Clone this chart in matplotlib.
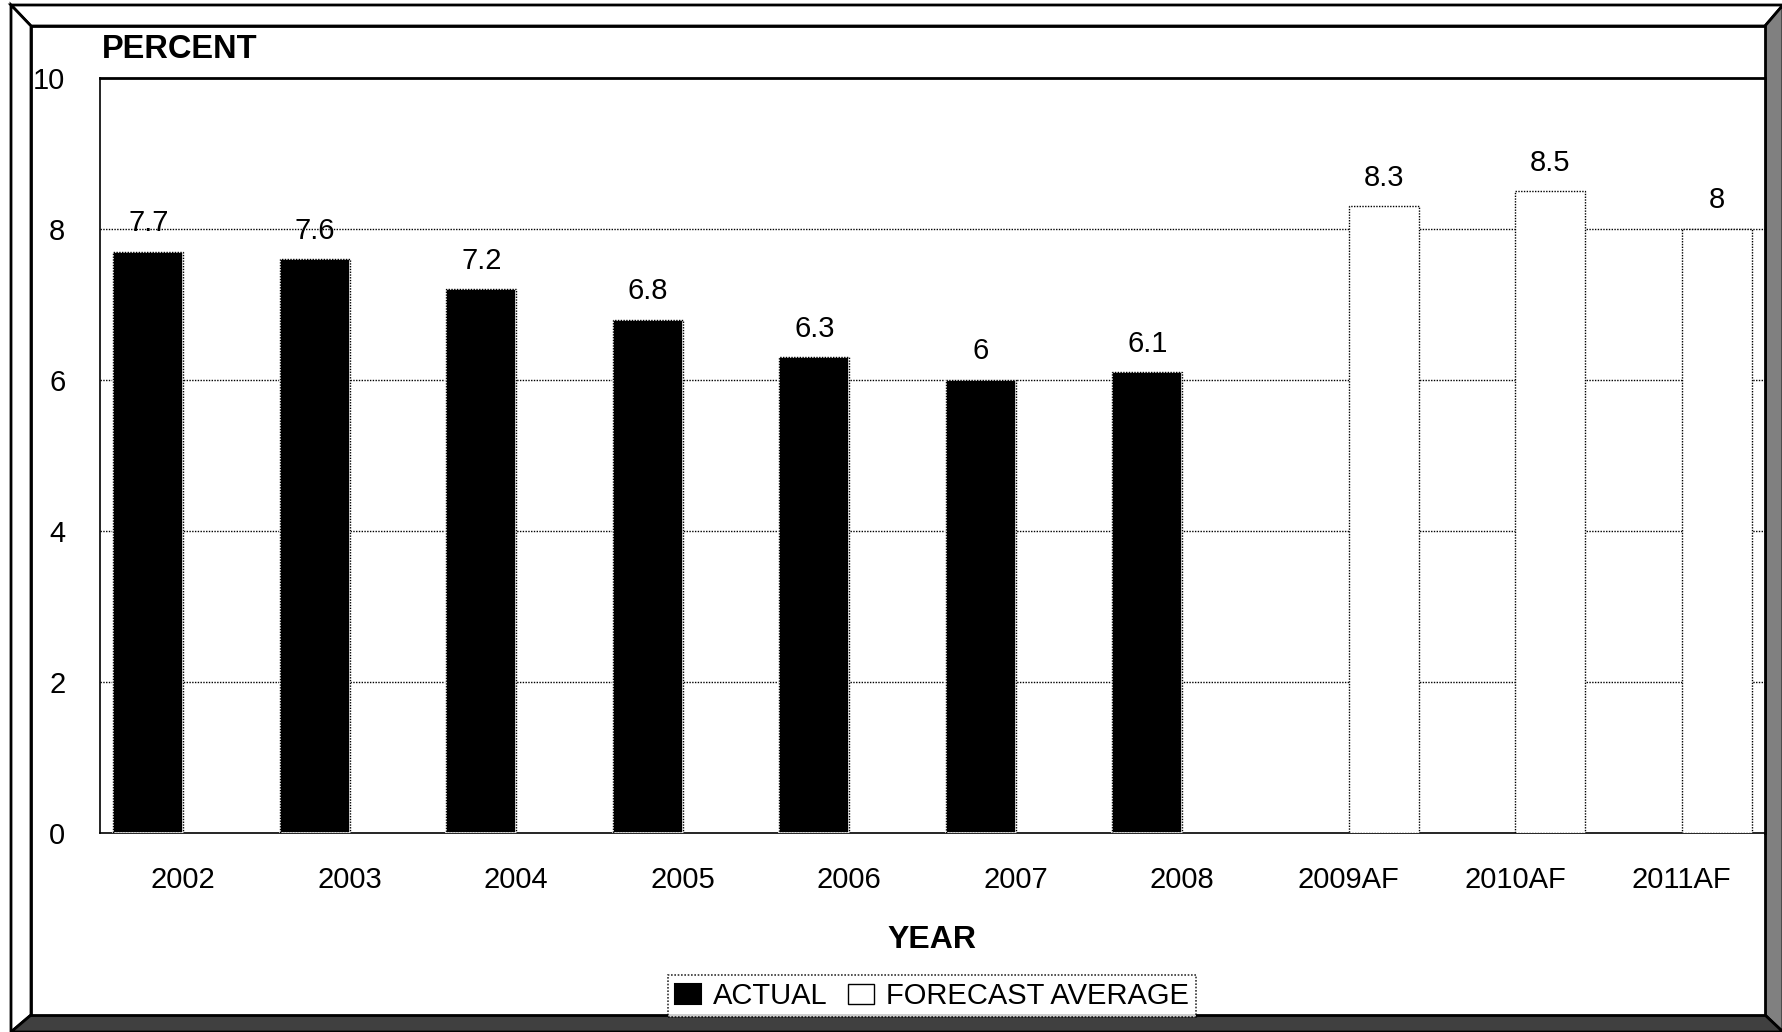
import matplotlib
matplotlib.use("Agg")
import matplotlib.pyplot as plt
from matplotlib.patches import Polygon, Patch
import numpy as np

plt.rcParams['font.family'] = ['Liberation Sans', 'DejaVu Sans']

years = ["2002", "2003", "2004", "2005", "2006", "2007", "2008",
         "2009AF", "2010AF", "2011AF"]
actual = [7.7, 7.6, 7.2, 6.8, 6.3, 6.0, 6.1, None, None, None]
forecast = [None, None, None, None, None, None, None, 8.3, 8.5, 8.0]
actual_labels = ["7.7", "7.6", "7.2", "6.8", "6.3", "6", "6.1"]
forecast_labels = ["8.3", "8.5", "8"]

W, H = 1783, 1032
fig = plt.figure(figsize=(W / 100, H / 100), dpi=100)


def fx(px):
    return px / W


def fy(py):
    return 1 - py / H


# beveled frame around the chart
def poly(pts, fc, lw=2.0):
    p = Polygon([(fx(a), fy(b)) for a, b in pts], closed=True, transform=fig.transFigure,
                facecolor=fc, edgecolor="black", linewidth=lw, zorder=-5)
    fig.patches.append(p)

poly([(11, 5), (1783, 5), (1765, 26), (31, 26)], "white")            # top
poly([(11, 5), (31, 26), (31, 1015), (11, 1032)], "white")            # left
poly([(1783, 5), (1783, 1032), (1765, 1015), (1765, 26)], "#808080")  # right
poly([(11, 1032), (31, 1015), (1765, 1015), (1783, 1032)], "#404040")  # bottom
poly([(31, 26), (1765, 26), (1765, 1015), (31, 1015)], "white")       # face

ax = fig.add_axes([fx(100), fy(833), fx(1765) - fx(100), fy(78) - fy(833)])
ax.set_zorder(2)
ax.set_facecolor("white")

x = np.arange(len(years))
bw = 0.42
act_x = [i - bw / 2 for i, v in enumerate(actual) if v is not None]
act_v = [v for v in actual if v is not None]
fc_x = [i + bw / 2 for i, v in enumerate(forecast) if v is not None]
fc_v = [v for v in forecast if v is not None]

ax.bar(act_x, act_v, width=bw, color="black", edgecolor="white", linewidth=1.2, zorder=3)
ax.bar(act_x, act_v, width=bw, color="none", edgecolor="black", linewidth=1.0,
       linestyle=(0, (1, 1)), zorder=4)
ax.bar(fc_x, fc_v, width=bw, color="white", edgecolor="black", linewidth=1.0,
       linestyle=(0, (1, 1)), zorder=3)

for xi, v, s in zip(act_x, act_v, actual_labels):
    ax.text(xi, v + 0.38, s, ha="center", va="center", fontsize=21)
for xi, v, s in zip(fc_x, fc_v, forecast_labels):
    ax.text(xi, v + 0.38, s, ha="center", va="center", fontsize=21)

ax.set_xlim(-0.5, len(years) - 0.5)
ax.set_ylim(0, 10)
ax.set_yticks([0, 2, 4, 6, 8, 10])
ax.set_yticklabels(["0", "2", "4", "6", "8", "10"], fontsize=21)
ax.set_xticks(x)
ax.set_xticklabels(years, fontsize=21)
ax.tick_params(axis="both", length=0)
ax.tick_params(axis="y", pad=25)
ax.tick_params(axis="x", pad=24)

for g in [2, 4, 6, 8]:
    ax.axhline(g, color="black", linewidth=1.0, linestyle=(0, (1, 1)), zorder=1)

ax.spines["top"].set_linewidth(2.0)
ax.spines["right"].set_linewidth(2.0)
ax.spines["left"].set_linestyle((0, (1, 1)))
ax.spines["left"].set_linewidth(1.2)
ax.spines["bottom"].set_linestyle((0, (1, 1)))
ax.spines["bottom"].set_linewidth(1.2)

fig.text(fx(102), fy(50), "PERCENT", fontsize=23.5, fontweight="bold", ha="left", va="center")
fig.text(fx(932), fy(940), "YEAR", fontsize=23, fontweight="bold", ha="center", va="center")

handles = [Patch(facecolor="black", edgecolor="black", linewidth=1.5),
           Patch(facecolor="white", edgecolor="black", linewidth=1.0)]
leg = fig.legend(handles, ["ACTUAL", "FORECAST AVERAGE"], loc="center",
                 bbox_to_anchor=(fx(932), fy(996)), ncol=2, fontsize=21, frameon=True,
                 fancybox=False, handlelength=0.9, handleheight=0.7, handletextpad=0.4,
                 columnspacing=0.7, borderpad=0.25, borderaxespad=0)
leg.get_frame().set_edgecolor("black")
leg.get_frame().set_linestyle((0, (1, 1)))
leg.get_frame().set_linewidth(1.2)
leg.set_zorder(5)

fig.savefig("out.png", dpi=100, facecolor="white")
